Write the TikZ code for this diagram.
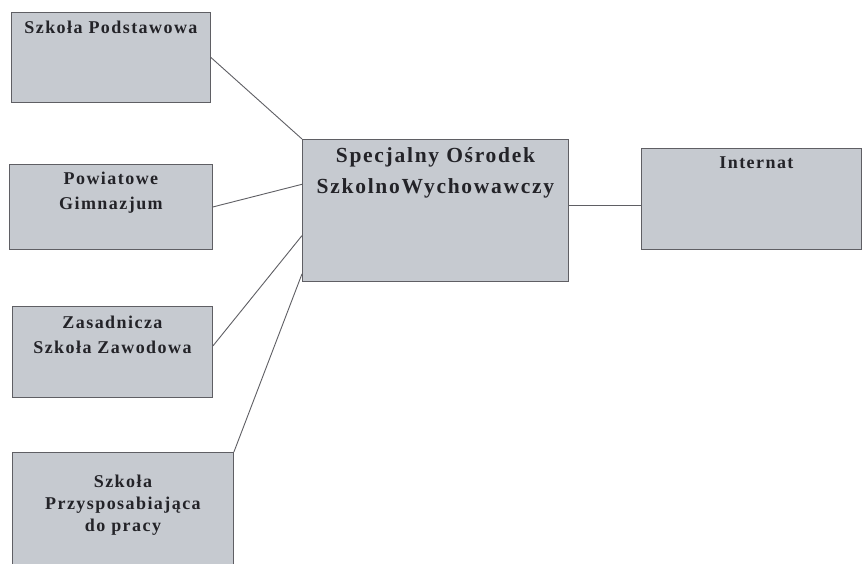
\documentclass[tikz,border=0pt]{standalone}
\usepackage{fontspec}
\setmainfont{Liberation Serif}
\newfontfamily\spaced[LetterSpace=8]{Liberation Serif}
\usetikzlibrary{calc}
\definecolor{boxfill}{RGB}{198,202,208}
\definecolor{boxline}{RGB}{95,95,100}
\definecolor{txt}{RGB}{35,35,40}
\begin{document}
\begin{tikzpicture}[x=1pt,y=-1pt,
  box/.style={draw=boxline,line width=0.9pt,fill=boxfill,rectangle,inner sep=0pt,anchor=north west},
  small/.style={font=\spaced\bfseries\fontsize{18}{25}\selectfont,text=txt,align=center,anchor=north,inner sep=0pt},
  big/.style={font=\spaced\bfseries\fontsize{21.5}{31}\selectfont,text=txt,align=center,anchor=north,inner sep=0pt},
  conn/.style={draw=boxline,line width=0.9pt}]
\useasboundingbox (0,0) rectangle (863,563);
\clip (0,0) rectangle (863,563);
\fill[white] (0,0) rectangle (863,563);
% boxes
\node[box,minimum width=199pt,minimum height=90pt] (sp) at (11,12) {};
\node[box,minimum width=203pt,minimum height=85pt] (pg) at (9,164) {};
\node[box,minimum width=200pt,minimum height=91pt] (zs) at (12,306) {};
\node[box,minimum width=221pt,minimum height=120pt] (spp) at (12,452) {};
\node[box,minimum width=266pt,minimum height=142pt] (so) at (302,139) {};
\node[box,minimum width=220pt,minimum height=101pt] (in) at (641,148) {};
% texts
\node[small] (t1) at ($(sp.north)+(0,9)$) {Szkoła Podstawowa};
\node[small] (t2) at ($(pg.north)+(0,8)$) {Powiatowe\\Gimnazjum};
\node[small] (t3) at ($(zs.north)+(0,10)$) {Zasadnicza\\Szkoła Zawodowa};
\node[small,font=\spaced\bfseries\fontsize{18}{22}\selectfont] (t4) at ($(spp.north)+(0,23)$) {Szkoła\\Przysposabiająca\\do pracy};
\node[big] (t5) at ($(so.north)+(0,8)$) {Specjalny Ośrodek\\SzkolnoWychowawczy};
\node[small] (t6) at ($(in.north)+(5,9)$) {Internat};
% connector end points
\coordinate (so2) at ($(so.north west)!0.317!(so.south west)$);
\coordinate (so3) at ($(so.north west)!0.676!(so.south west)$);
\coordinate (so4) at ($(so.north west)!0.944!(so.south west)$);
\coordinate (soe) at ($(so.north east)!0.465!(so.south east)$);
\coordinate (zse) at ($(zs.east)+(0,-6)$);
% connectors
\draw[conn] (sp.east) -- (so.north west);
\draw[conn] (pg.east) -- (so2);
\draw[conn] (zse) -- (so3);
\draw[conn] (spp.north east) -- (so4);
\draw[conn] (soe) -- (soe -| in.west);
\end{tikzpicture}
\end{document}
